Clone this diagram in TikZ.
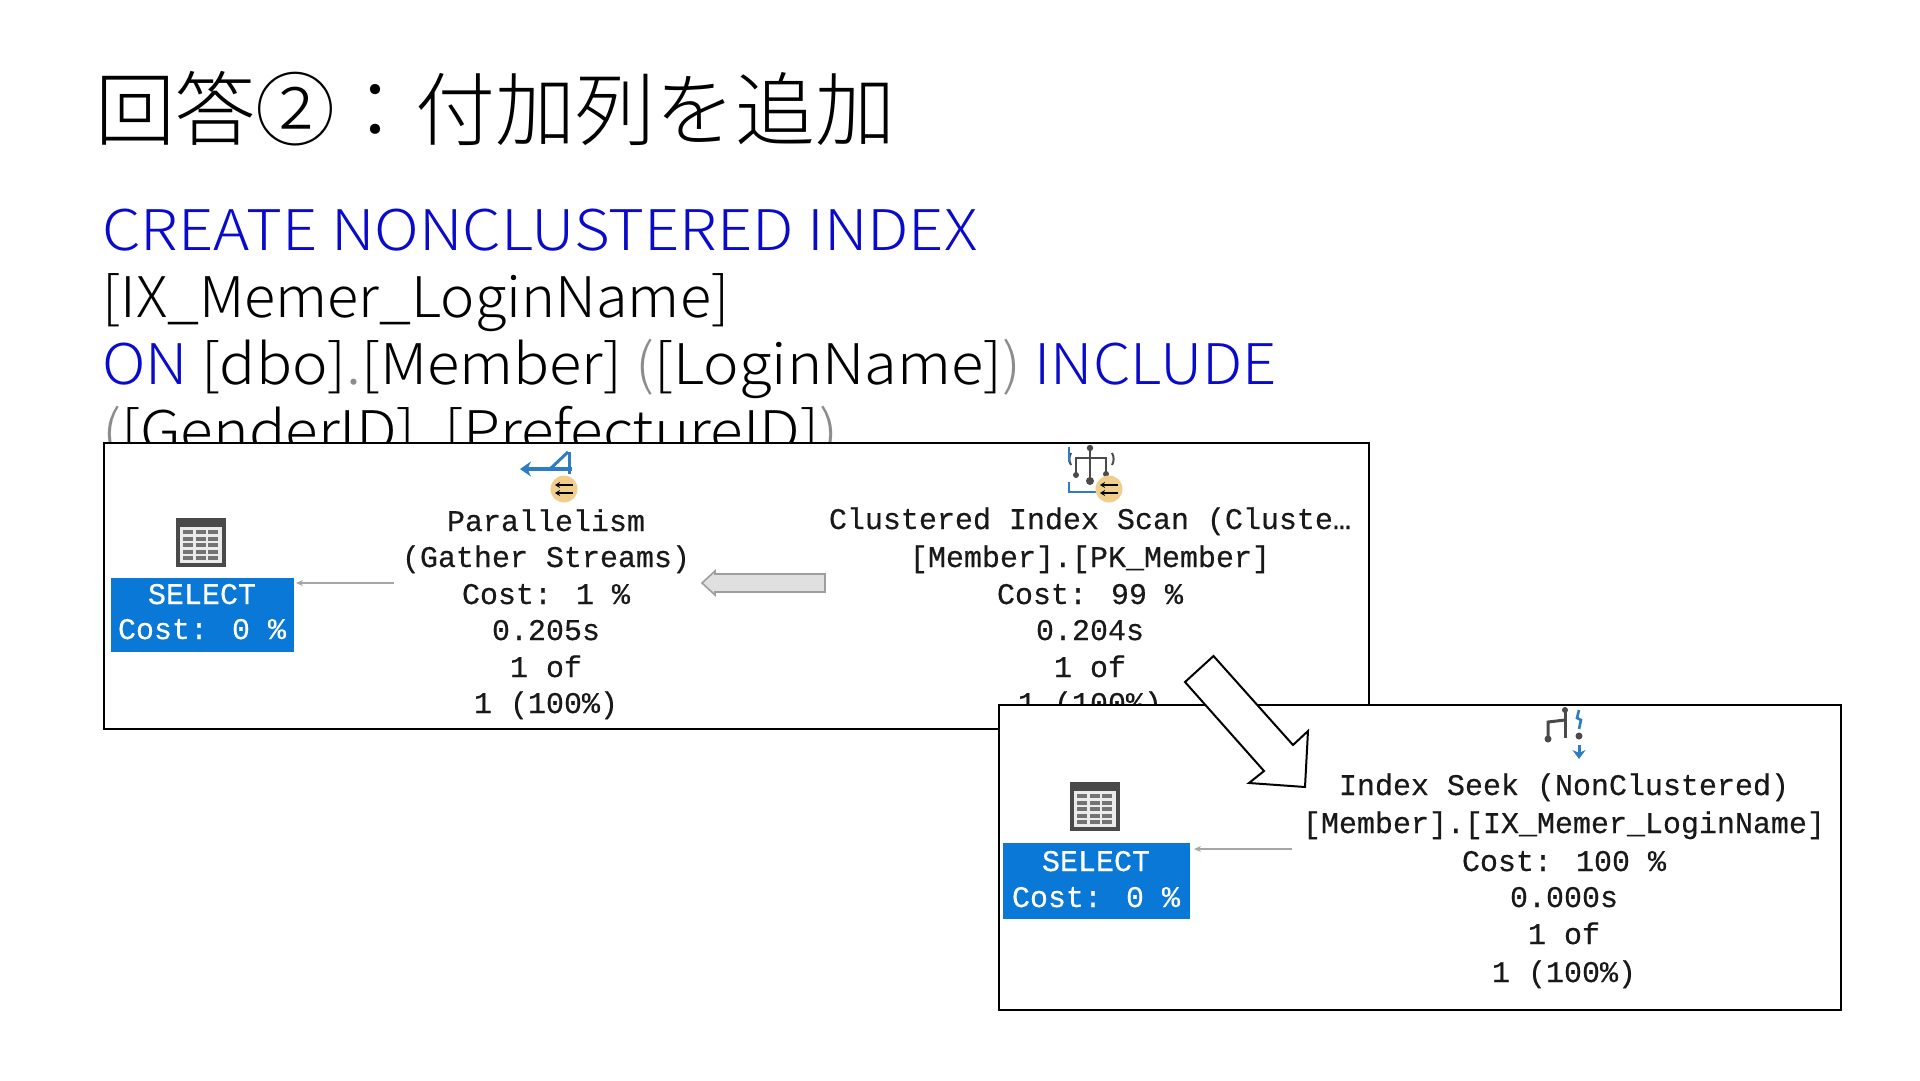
\documentclass[tikz,border=0pt]{standalone}
\usepackage{fontspec}
\usepackage{graphicx}
\newfontfamily\cjk{Noto Sans CJK JP Light}
\newfontfamily\plan[FakeBold=0.4]{Liberation Mono}
\usetikzlibrary{arrows.meta}
\definecolor{kw}{HTML}{0A0ACD}
\definecolor{pu}{HTML}{8C8C8C}
\definecolor{sel}{HTML}{0A78D7}
\definecolor{icg}{HTML}{4A4A4A}
\definecolor{icb}{HTML}{2E7CC4}
\definecolor{bad}{HTML}{F0CE8C}
\tikzset{
  x=1pt,y=-1pt,
  codeline/.style={anchor=base west,inner sep=0,font=\cjk\fontsize{56}{56}\selectfont},
  titleline/.style={anchor=base west,inner sep=0,font=\cjk\fontsize{80}{80}\selectfont},
  plantext/.style={anchor=base,inner sep=0,text=black!90,font=\plan\fontsize{30}{30}\selectfont},
  seltext/.style={anchor=base,inner sep=0,text=white,font=\plan\fontsize{30}{30}\selectfont},
  selbox/.style={draw=none,fill=sel,inner sep=0,minimum width=#1,minimum height=74pt},
  frame/.style={draw=black,line width=1.6pt,fill=white},
  link/.style={draw=black!35,line width=1.5pt,-{Stealth[length=7pt,width=6pt]}},
  fatlink/.style={draw=black!38,line width=1.6pt,fill=black!12},
  bigarrow/.style={draw=black,line width=2pt,fill=white,line join=miter},
  tree/.style={draw=icg,line width=2.4pt},
  blueline/.style={draw=icb,line width=2.6pt},
}
\newcommand{\gridicon}[2]{%
  \fill[icg] (#1,#2) rectangle ++(50,49);
  \fill[white!92!black] (#1+4,#2+9) rectangle ++(42,36);
  \foreach \r in {0,1,2,3,4}{\foreach \c in {0,1,2}{
    \fill[black!55] (#1+7+\c*12.5,#2+12+\r*6.6) rectangle ++(10,4);}}%
}
\newcommand{\parbadge}[2]{%
  \fill[bad] (#1,#2) circle (13.5);
  \draw[black,line width=1.8pt,-{Stealth[length=5pt,width=6pt]}] (#1+9,#2-4) -- (#1-9,#2-4);
  \draw[black,line width=1.8pt,-{Stealth[length=5pt,width=6pt]}] (#1+9,#2+4) -- (#1-9,#2+4);
}
\begin{document}
\begin{tikzpicture}
\useasboundingbox (0,0) rectangle (1920,1080);
% title and SQL
\node[titleline] (title) at (95,139) {回答②：付加列を追加};
\node[codeline,text=kw] (l1) at (102,250) {\scalebox{1.098}[1]{CREATE NONCLUSTERED INDEX}};
\node[codeline] (l2) at (102,317) {\scalebox{1.03}[1]{[IX\_Memer\_LoginName]}};
\node[codeline] (l3) at (102,384) {\scalebox{1.068}[1]{\textcolor{kw}{ON} [dbo]\textcolor{pu}{.}[Member] \textcolor{pu}{(}[LoginName]\textcolor{pu}{)} \textcolor{kw}{INCLUDE}}};
\node[codeline] (l4) at (102,451) {\scalebox{1.078}[1]{\textcolor{pu}{(}[GenderID]\textcolor{pu}{,} [PrefectureID]\textcolor{pu}{)}}};
% upper plan
\path[frame] (104,443) rectangle (1369,729);
\gridicon{176}{518}
\node[selbox=183pt] (s1) at (202.5,615) {};
\node[seltext] (s1a) at (202,604) {SELECT};
\node[seltext] (s1b) at (202,639) {Cost: 0 \%};
\node[plantext] (p1) at (546,531) {Parallelism};
\node[plantext] (p2) at (546,567) {(Gather Streams)};
\node[plantext] (p3) at (546,604) {Cost: 1 \%};
\node[plantext] (p4) at (546,640) {0.205s};
\node[plantext] (p5) at (546,677) {1 of};
\node[plantext] (p6) at (546,713) {1 (100\%)};
\node[plantext] (c1) at (1090,529) {Clustered Index Scan (Cluste…};
\node[plantext] (c2) at (1090,567) {[Member].[PK\_Member]};
\node[plantext] (c3) at (1090,604) {Cost: 99 \%};
\node[plantext] (c4) at (1090,640) {0.204s};
\node[plantext] (c5) at (1090,677) {1 of};
\node[plantext] (c6) at (1090,713) {1 (100\%)};
% parallelism icon
\draw[blueline,line width=4pt,-{Stealth[length=11pt,width=15pt]}] (572,469) -- (520,469);
\draw[blueline,line width=3pt] (568,452) -- (550,469);
\draw[blueline,line width=3pt] (569,452) -- (569,474);
\parbadge{564}{489}
% clustered scan icon
\draw[tree] (1090,448) -- (1090,481);
\draw[tree] (1076,475) -- (1076,458) -- (1106,458) -- (1106,473);
\fill[icg] (1090,448) circle (3.2) (1090,481) circle (4) (1076,475) circle (3) (1106,474) circle (3);
\draw[icg,line width=2pt] (1071,465) arc (150:210:12);
\draw[icg,line width=2pt] (1112,465) arc (30:-30:12);
\draw[blueline] (1069,447) -- (1069,462);
\draw[blueline] (1069,482) -- (1069,492) -- (1097,492);
\parbadge{1109}{489}
% upper connectors
\coordinate (a1) at (394,583);
\coordinate (a2) at (296,583);
\draw[link] (a1) -- (a2);
\coordinate (f1) at (825,574);
\coordinate (f2) at (715,574);
\coordinate (f3) at (715,571);
\coordinate (f4) at (702,583);
\coordinate (f5) at (715,595);
\coordinate (f6) at (715,592);
\coordinate (f7) at (825,592);
\path[fatlink] (f1) -- (f2) -- (f3) -- (f4) -- (f5) -- (f6) -- (f7) -- cycle;
% lower plan
\path[frame] (999,705) rectangle (1841,1010);
\gridicon{1070}{782}
\node[selbox=187pt,minimum height=76pt] (s2) at (1096.5,881) {};
\node[seltext] (s2a) at (1096,871) {SELECT};
\node[seltext] (s2b) at (1096,907) {Cost: 0 \%};
\node[plantext] (q1) at (1564,795) {Index Seek (NonClustered)};
\node[plantext] (q2) at (1564,833) {[Member].[IX\_Memer\_LoginName]};
\node[plantext] (q3) at (1564,871) {Cost: 100 \%};
\node[plantext] (q4) at (1564,907) {0.000s};
\node[plantext] (q5) at (1564,944) {1 of};
\node[plantext] (q6) at (1564,982) {1 (100\%)};
% index seek icon
\draw[tree,line width=3pt] (1565,710) -- (1565,738);
\draw[tree,line width=3pt] (1548,738) -- (1548,722) -- (1565,720);
\fill[icg] (1565,710) circle (3) (1548,739) circle (3.5) (1579,736) circle (3.5);
\draw[blueline] (1579,710) -- (1577,718) -- (1581,720) -- (1579,729);
\draw[blueline,line width=3pt,-{Stealth[length=9pt,width=13pt]}] (1579,745) -- (1579,759);
\coordinate (b1) at (1292,849);
\coordinate (b2) at (1194,849);
\draw[link] (b1) -- (b2);
% big arrow
\coordinate (v1) at (1213.5,656);
\coordinate (v2) at (1185,682);
\coordinate (v3) at (1264,771);
\coordinate (v4) at (1249,783);
\coordinate (v5) at (1305,787);
\coordinate (v6) at (1308,731);
\coordinate (v7) at (1293,745);
\path[bigarrow] (v1) -- (v2) -- (v3) -- (v4) -- (v5) -- (v6) -- (v7) -- cycle;
\end{tikzpicture}
\end{document}
